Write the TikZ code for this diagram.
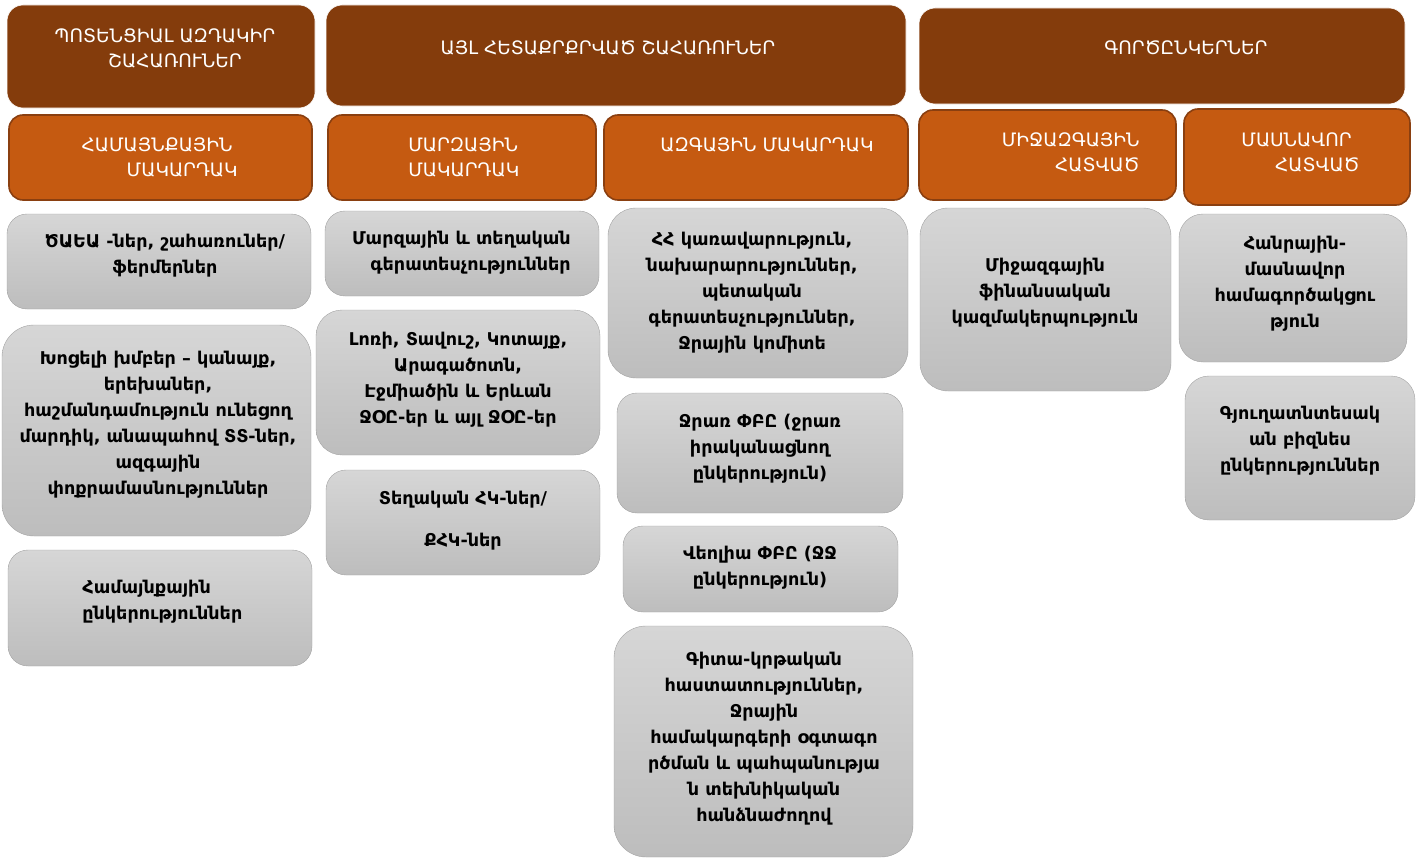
\documentclass[tikz,border=0pt]{standalone}
\usepackage{fontspec}
\setmainfont{DejaVu Sans}
\usepackage{xcolor}
\usepackage{tikz}
\usetikzlibrary{positioning}

\definecolor{hdbrown}{HTML}{843C0C}
\definecolor{lvorange}{HTML}{C55A11}
\definecolor{lvedge}{HTML}{8A3F10}
\definecolor{boxtop}{HTML}{D6D6D6}
\definecolor{boxbot}{HTML}{BDBDBD}
\definecolor{boxedge}{HTML}{A3A3A3}

\begin{document}
\begin{tikzpicture}[x=1pt,y=-1pt,semithick]
  \tikzstyle{head}=[draw=white, fill=hdbrown, rounded corners=16pt, inner sep=0pt, outer sep=0pt]
  \tikzstyle{level}=[draw=lvedge, line width=1.6pt, fill=lvorange, rounded corners=14pt, inner sep=0pt, outer sep=0pt]
  \tikzstyle{actor}=[draw=boxedge, thin, top color=boxtop, bottom color=boxbot, rounded corners=20pt, inner sep=0pt, outer sep=0pt]
  \tikzstyle{hdtxt}=[text=white, font=\fontsize{18.5}{25}\selectfont, inner sep=0pt]
  \tikzstyle{txt}=[text=black, font=\bfseries\fontsize{17.6}{26}\selectfont, inner sep=0pt, align=center]
  \useasboundingbox (0,0) rectangle (1422,859);

  % top row
  \node[head, minimum width=308, minimum height=103] (H1) at (161,56.5) {};
  \node[head, minimum width=580, minimum height=101] (H2) at (616,55.5) {};
  \node[head, minimum width=486, minimum height=96] (H3) at (1162,56) {};
  \node[hdtxt, align=center] (H1t) at (165,48) {ՊՈՏԵՆՑԻԱԼ ԱԶԴԱԿԻՐ\\\hspace*{20pt}ՇԱՀԱՌՈՒՆԵՐ};
  \node[hdtxt] (H2t) at (608,48) {ԱՅԼ ՀԵՏԱՔՐՔՐՎԱԾ ՇԱՀԱՌՈՒՆԵՐ};
  \node[hdtxt] (H3t) at (1186,48) {ԳՈՐԾԸՆԿԵՐՆԵՐ};

  % levels
  \node[level, minimum width=303, minimum height=85] (L1) at (160.5,157.5) {};
  \node[level, minimum width=268, minimum height=85] (L2) at (462,157.5) {};
  \node[level, minimum width=304, minimum height=85] (L3) at (756,157.5) {};
  \node[level, minimum width=257, minimum height=90] (L4) at (1047.5,155) {};
  \node[level, minimum width=226, minimum height=96] (L5) at (1297,157) {};
  \node[hdtxt, align=right, anchor=east] (L1t) at (238,157.5) {ՀԱՄԱՅՆՔԱՅԻՆ\hspace*{5pt}\\ՄԱԿԱՐԴԱԿ};
  \node[hdtxt, align=left, anchor=west] (L2t) at (408,157.5) {ՄԱՐԶԱՅԻՆ\\ՄԱԿԱՐԴԱԿ};
  \node[hdtxt] (L3t) at (767,145) {ԱԶԳԱՅԻՆ ՄԱԿԱՐԴԱԿ};
  \node[hdtxt, align=right, anchor=east] (L4t) at (1140,152.5) {ՄԻՋԱԶԳԱՅԻՆ\\ՀԱՏՎԱԾ};
  \node[hdtxt, align=right, anchor=east] (L5t) at (1360,152.5) {ՄԱՍՆԱՎՈՐ\hspace*{8pt}\\ՀԱՏՎԱԾ};

  % community level
  \node[actor, minimum width=304, minimum height=95] (B1) at (159,261.5) {};
  \node[actor, rounded corners=32pt, minimum width=309, minimum height=211] (B2) at (156.5,430.5) {};
  \node[actor, minimum width=304, minimum height=116] (B3) at (160,608) {};
  \node[txt] (T1) at (165,256) {ԾԱԵԱ -ներ, շահառուներ/\\ֆերմերներ};
  \node[txt] (T2) at (158,425) {Խոցելի խմբեր – կանայք,\\երեխաներ,\\հաշմանդամություն ունեցող\\մարդիկ, անապահով ՏՏ-ներ,\\ազգային\\փոքրամասնություններ};
  \node[txt, align=left, anchor=west] (T3) at (82,602) {Համայնքային\\ընկերություններ};

  % regional level
  \node[actor, minimum width=274, minimum height=85] (B4) at (462,253.5) {};
  \node[actor, rounded corners=26pt, minimum width=284, minimum height=145] (B5) at (458,382.5) {};
  \node[actor, minimum width=274, minimum height=105] (B6) at (463,522.5) {};
  \node[txt, align=right, anchor=east] (T4) at (571,253) {Մարզային և տեղական\\գերատեսչություններ};
  \node[txt] (T5) at (458,379.5) {Լոռի, Տավուշ, Կոտայք,\\Արագածոտն,\\Էջմիածին և Երևան\\ՋՕԸ-եր և այլ ՋՕԸ-եր};
  \node[txt] (T6) at (463,521) {Տեղական ՀԿ-ներ/\\[16pt]ՔՀԿ-ներ};

  % national level
  \node[actor, rounded corners=28pt, minimum width=300, minimum height=170] (B7) at (758,293) {};
  \node[actor, minimum width=286, minimum height=120] (B8) at (760,453) {};
  \node[actor, minimum width=275, minimum height=86] (B9) at (760.5,569) {};
  \node[actor, rounded corners=32pt, minimum width=299, minimum height=231] (B10) at (763.5,741.5) {};
  \node[txt] (T7) at (752,293) {ՀՀ կառավարություն,\\նախարարություններ,\\պետական\\գերատեսչություններ,\\Ջրային կոմիտե};
  \node[txt] (T8) at (760,449) {Ջրառ ՓԲԸ (ջրառ\\իրականացնող\\ընկերություն)};
  \node[txt] (T9) at (760,568) {Վեոլիա ՓԲԸ (ՋՋ\\ընկերություն)};
  \node[txt] (T10) at (764,739) {Գիտա-կրթական\\հաստատություններ,\\Ջրային\\համակարգերի օգտագո\\րծման և պահպանությա\\ն տեխնիկական\\հանձնաժողով};

  % international and private sector
  \node[actor, rounded corners=28pt, minimum width=251, minimum height=183] (B11) at (1045.5,299.5) {};
  \node[actor, rounded corners=24pt, minimum width=228, minimum height=148] (B12) at (1293,288) {};
  \node[actor, rounded corners=24pt, minimum width=230, minimum height=144] (B13) at (1300,448) {};
  \node[txt] (T11) at (1045,293) {Միջազգային\\ֆինանսական\\կազմակերպություն};
  \node[txt] (T12) at (1295,284) {Հանրային-\\մասնավոր\\համագործակցու\\թյուն};
  \node[txt] (T13) at (1300,441) {Գյուղատնտեսակ\\ան բիզնես\\ընկերություններ};
\end{tikzpicture}
\end{document}
